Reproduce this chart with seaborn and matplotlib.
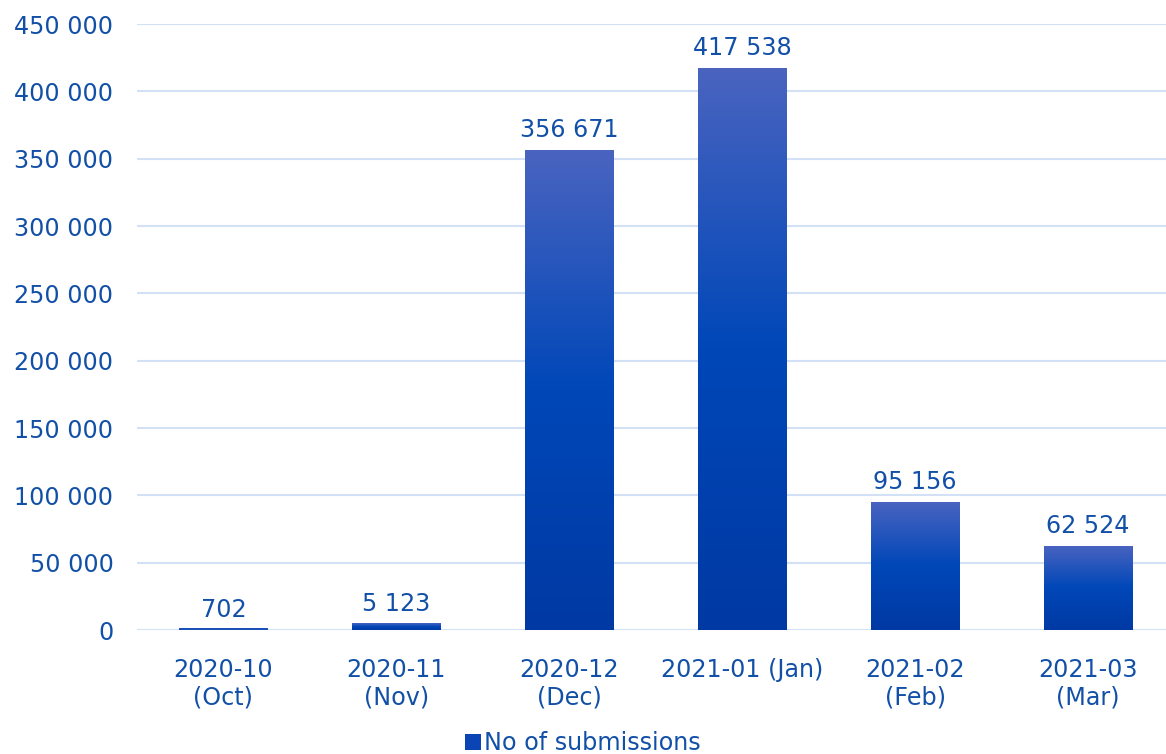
import matplotlib.pyplot as plt
import matplotlib.ticker as mticker
import numpy as np
import pandas as pd
import seaborn as sns
from matplotlib.colors import LinearSegmentedColormap
from matplotlib.patches import Patch

months = ["2020-10\n(Oct)", "2020-11\n(Nov)", "2020-12\n(Dec)",
          "2021-01 (Jan)", "2021-02\n(Feb)", "2021-03\n(Mar)"]
submissions = [702, 5123, 356671, 417538, 95156, 62524]

df = pd.DataFrame({"month": months, "submissions": submissions})

# Colors:
text_color = "#1250a8"
grid_color = "#d3e1f7"
grad = LinearSegmentedColormap.from_list("grad", ["#0039a3", "#0047b8", "#4a64c0"])

sns.set_theme(style="white")
plt.rcParams["font.family"] = ["DejaVu Sans"]
fs = 17.2

fig = plt.figure(figsize=(11.66, 7.54), dpi=100)
ax = fig.add_axes([137 / 1166, 1 - 630 / 754, 1 - 137 / 1166, (630 - 24) / 754])

sns.barplot(data=df, x="month", y="submissions", color="#0047b8",
            width=0.51, ax=ax, zorder=2)

# gradient fill on each bar
gradient = np.linspace(0, 1, 256).reshape(-1, 1)
for bar in ax.patches:
    x0, y0 = bar.get_x(), bar.get_y()
    w, h = bar.get_width(), bar.get_height()
    bar.set_facecolor("none")
    bar.set_edgecolor("none")
    im = ax.imshow(gradient, cmap=grad, aspect="auto", origin="lower",
                   extent=[x0, x0 + w, y0, y0 + max(h, 1)], zorder=2)
    im.set_clip_path(bar)
    ax.add_patch(plt.Rectangle((x0, y0), w, max(h, 1200), color="#1a50b8",
                               zorder=1.5 if h > 2000 else 2.5, lw=0))

ax.set_xlim(-0.5, 5.45)
ax.set_ylim(0, 450000)

fmt = lambda v: f"{int(v):,}".replace(",", " ")
for i, v in enumerate(submissions):
    ax.text(i, v + 5500, fmt(v), ha="center", va="bottom",
            fontsize=fs, color=text_color)

ax.yaxis.set_major_locator(mticker.MultipleLocator(50000))
ax.yaxis.set_major_formatter(mticker.FuncFormatter(lambda v, p: fmt(v)))
ax.grid(axis="y", color=grid_color, linewidth=1.5, zorder=0)
ax.set_axisbelow(True)
for s in ax.spines.values():
    s.set_visible(False)
ax.tick_params(axis="both", length=0, labelsize=fs, labelcolor=text_color)
ax.tick_params(axis="y", pad=17)
ax.tick_params(axis="x", pad=20)
ax.set_xlabel("")
ax.set_ylabel("")
for lbl in ax.get_xticklabels():
    lbl.set_linespacing(1.2)

handle = Patch(facecolor="#0a44b5", edgecolor="none")
fig.legend([handle], ["No of submissions"], loc="lower center",
           bbox_to_anchor=(0.5, -0.03), frameon=False, fontsize=fs,
           labelcolor=text_color, handlelength=0.65, handleheight=0.65,
           handletextpad=0.15)

plt.savefig("out.png", dpi=100)
